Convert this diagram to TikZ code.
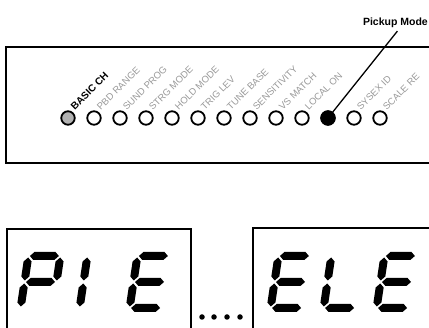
\documentclass[tikz,border=0pt]{standalone}
\usepackage{fontspec}
\setmainfont{Liberation Sans}
\usetikzlibrary{positioning}
\tikzset{
  led/.style      = {circle, draw=black, line width=1.8pt, fill=white,
                     minimum size=13.5pt, inner sep=0pt},
  ledon/.style    = {led, fill=black},
  ledbasic/.style = {led, fill=black!30},
  parm/.style     = {rotate=45, anchor=south west, inner sep=0pt,
                     font=\fontsize{9.5}{10}\selectfont, text=black!40},
  parmbold/.style = {parm, text=black, font=\fontsize{10}{11}\selectfont\bfseries},
  panel/.style    = {draw=black, line width=2.4pt},
  lcdbox/.style   = {draw=black, line width=1.3pt},
  callout/.style  = {font=\fontsize{10.5}{12}\selectfont\bfseries, inner sep=1pt},
  dot/.style      = {circle, fill=black, minimum size=5.5pt, inner sep=0pt},
}
% seven-segment pieces (cell 38 x 60, y downwards)
\newcommand{\hseg}[3]{\fill (#1,#3) -- (#1+4,#3-4) -- (#2-4,#3-4) -- (#2,#3)
  -- (#2-4,#3+4) -- (#1+4,#3+4) -- cycle;}
\newcommand{\vseg}[3]{\fill (#1,#2) -- (#1+4,#2+4) -- (#1+4,#3-4) -- (#1,#3)
  -- (#1-4,#3-4) -- (#1-4,#2+4) -- cycle;}
\newcommand{\sega}{\hseg{5.5}{34.5}{4}}
\newcommand{\segb}{\vseg{36}{5.5}{28.5}}
\newcommand{\segc}{\vseg{36}{31.5}{54.5}}
\newcommand{\segd}{\hseg{5.5}{34.5}{56}}
\newcommand{\sege}{\vseg{4}{31.5}{54.5}}
\newcommand{\segf}{\vseg{4}{5.5}{28.5}}
\newcommand{\segg}{\hseg{5.5}{34.5}{30}}
\newcommand{\lcdchar}[3]{\begin{scope}[shift={(#1,#2)}, xslant=0.15] #3 \end{scope}}

\begin{document}
\begin{tikzpicture}[x=1pt, y=-1pt]
  \useasboundingbox (0,0) rectangle (429,328);
  \clip (0,0) rectangle (429,328);

  % front panel
  \draw[panel] (440,163) -- (6,163) -- (6,47) -- (440,47);

  \node[parmbold] (lab0) at (75,111) {BASIC CH};
  \foreach \i/\lab in {1/PBD RANGE, 2/SUND PROG, 3/STRG MODE,
                       4/HOLD MODE, 5/TRIG LEV, 6/TUNE BASE, 7/SENSITIVITY,
                       8/VS MATCH, 9/LOCAL ON, 11/SYSEX ID, 12/SCALE RE} {
    \node[parm] (lab\i) at (75+26*\i,111) {\lab};
  }

  \node[ledbasic] (led0) at (68,118) {};
  \foreach \i in {1,...,12} {
    \node[led] (led\i) at (68+26*\i,118) {};
  }
  \node[ledon] (led10) at (328,118) {};

  \node[callout, anchor=east] (pm) at (429,23) {Pickup Mode};
  \draw[line width=1.3pt] (led10.center) -- ([xshift=2pt,yshift=-2pt]pm.south);

  % displays
  \draw[lcdbox] (7,340) -- (7,229) -- (191,229) -- (191,340);
  \draw[lcdbox] (253,340) -- (253,228) -- (440,228);

  \lcdchar{25}{252}{\sega\segb\segf\segg\sege}
  \lcdchar{84}{252}{\segf\sege}
  \lcdchar{134}{252}{\sega\segf\segg\sege\segd}

  \lcdchar{275}{252}{\sega\segf\segg\sege\segd}
  \lcdchar{328}{252}{\segf\sege\segd}
  \lcdchar{381}{252}{\sega\segf\segg\sege\segd}

  \foreach \k/\x in {1/202,2/214,3/227,4/240} {
    \node[dot] (dot\k) at (\x,317) {};
  }
\end{tikzpicture}
\end{document}
